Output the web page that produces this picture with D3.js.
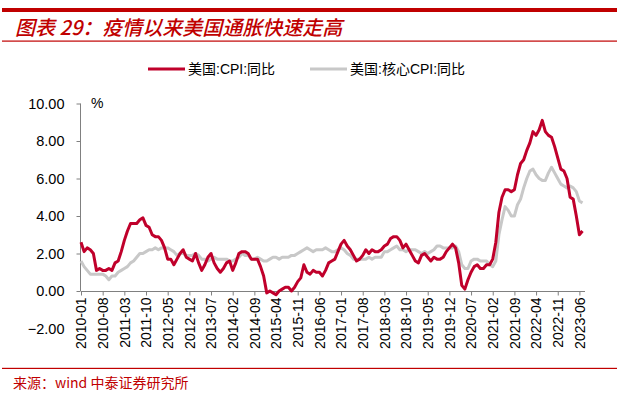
<!DOCTYPE html>
<html><head><meta charset="utf-8">
<script src="https://cdn.jsdelivr.net/npm/d3@7"></script>
<style>
html,body{margin:0;padding:0;background:#fff;}
svg{display:block;}
</style></head>
<body>
<svg id="c" width="630" height="396"></svg>
<script>
const startYear = 2010, startMonth = 1;
const cpi = [
 2.6,2.1,2.3,2.2,2.0,1.1,1.2,1.1,1.1,1.2,1.1,1.5,
 1.6,2.1,2.7,3.2,3.6,3.6,3.6,3.8,3.9,3.5,3.4,3.0,
 2.9,2.9,2.7,2.3,1.7,1.7,1.4,1.7,2.0,2.2,1.8,1.7,
 1.6,2.0,1.5,1.1,1.4,1.8,2.0,1.5,1.2,1.0,1.2,1.5,
 1.6,1.1,1.5,2.0,2.1,2.1,2.0,1.7,1.7,1.7,1.3,0.8,
 -0.1,0.0,-0.1,-0.2,0.0,0.1,0.2,0.2,0.0,0.2,0.5,0.7,
 1.4,1.0,0.9,1.1,1.0,1.0,0.8,1.1,1.5,1.6,1.7,2.1,
 2.5,2.7,2.4,2.2,1.9,1.6,1.7,1.9,2.2,2.0,2.2,2.1,
 2.1,2.2,2.4,2.5,2.8,2.9,2.9,2.7,2.3,2.5,2.2,1.9,
 1.6,1.5,1.9,2.0,1.8,1.6,1.8,1.7,1.7,1.8,2.1,2.3,
 2.5,2.3,1.5,0.3,0.1,0.6,1.0,1.3,1.4,1.2,1.2,1.4,
 1.4,1.7,2.6,4.2,5.0,5.4,5.4,5.3,5.4,6.2,6.8,7.0,
 7.5,7.9,8.5,8.3,8.6,9.1,8.5,8.3,8.2,7.7,7.1,6.5,
 6.4,6.0,5.0,4.9,4.0,3.0,3.2
];
const coreCpi = [
 1.6,1.3,1.1,0.9,0.9,0.9,0.9,0.9,0.8,0.6,0.8,0.8,
 1.0,1.1,1.2,1.3,1.5,1.6,1.8,2.0,2.0,2.1,2.2,2.2,
 2.3,2.2,2.3,2.3,2.3,2.2,2.1,1.9,2.0,2.0,1.9,1.9,
 1.9,2.0,1.9,1.7,1.7,1.6,1.7,1.8,1.7,1.7,1.7,1.7,
 1.6,1.6,1.7,1.8,2.0,1.9,1.9,1.7,1.7,1.8,1.7,1.6,
 1.6,1.7,1.8,1.8,1.7,1.8,1.8,1.8,1.9,1.9,2.0,2.1,
 2.2,2.3,2.2,2.1,2.2,2.2,2.2,2.3,2.2,2.1,2.1,2.2,
 2.3,2.2,2.0,1.9,1.7,1.7,1.7,1.7,1.7,1.8,1.7,1.8,
 1.8,1.8,2.1,2.1,2.2,2.3,2.4,2.2,2.2,2.1,2.2,2.2,
 2.2,2.1,2.0,2.1,2.0,2.1,2.2,2.4,2.4,2.3,2.3,2.3,
 2.3,2.4,2.1,1.4,1.2,1.2,1.6,1.7,1.7,1.6,1.6,1.6,
 1.4,1.3,1.6,3.0,3.8,4.5,4.3,4.0,4.0,4.6,4.9,5.5,
 6.0,6.4,6.5,6.2,6.0,5.9,5.9,6.3,6.6,6.3,6.0,5.7,
 5.6,5.5,5.6,5.5,5.3,4.8,4.7
];
const seriesNames = ["美国:CPI:同比","美国:核心CPI:同比"];
const yTicks = [-2,0,2,4,6,8,10];
const xTickStep = 7;
const titleText = "图表 29：疫情以来美国通胀快速走高";
const sourceText = "来源：wind 中泰证券研究所";

const n = cpi.length;
const labels = d3.range(n).map(i => {
  const m = startMonth - 1 + i;
  const y = startYear + Math.floor(m / 12);
  const mm = (m % 12) + 1;
  return y + "-" + (mm < 10 ? "0" + mm : mm);
});

const svg = d3.select("#c");
const red = "#C00000";
const lineRed = "#C0002B";
const lineGrey = "#C8C8C8";

// header
svg.append("rect").attr("x",2).attr("y",8).attr("width",615).attr("height",4).attr("fill",red);
svg.append("text").attr("x",15).attr("y",35)
  .attr("font-family","'Noto Sans CJK SC'").attr("font-size",20).attr("font-weight",500)
  .attr("font-style","italic").attr("fill",red).text(titleText);
svg.append("rect").attr("x",2).attr("y",40.5).attr("width",615).attr("height",1.2).attr("fill",red);
// footer
svg.append("rect").attr("x",2).attr("y",367.8).attr("width",615).attr("height",1.2).attr("fill",red);
svg.append("text").attr("x",13).attr("y",388)
  .attr("font-family","'Noto Sans CJK SC'").attr("font-size",14)
  .attr("fill",red).text(sourceText);

const x = d3.scaleLinear().domain([0, n - 1]).range([81, 582.5]);
const y = d3.scaleLinear().domain([-2, 10]).range([328.5, 103.5]);

// y axis
const yAxis = svg.append("g").attr("transform","translate(80.5,0)")
  .call(d3.axisLeft(y).tickValues(yTicks).tickSize(4).tickPadding(12).tickFormat(d3.format(".2f")));
yAxis.select(".domain").remove();
yAxis.selectAll(".tick").filter(d => d < 0).select("line").remove();
yAxis.selectAll("line").attr("stroke","#808080");
yAxis.selectAll("text").attr("font-family","'Liberation Sans', Arial").attr("font-size",14.5).attr("fill","#000");
svg.append("line").attr("x1",80.5).attr("x2",80.5).attr("y1",y(10)).attr("y2",y(0)).attr("stroke","#808080");
svg.append("text").attr("x",91).attr("y",y(10)+4).attr("font-family","'Liberation Sans', Arial")
  .attr("font-size",14).attr("fill","#000").text("%");

// x axis
const tickIdx = d3.range(0, n, xTickStep);
const xAxis = svg.append("g").attr("transform","translate(0," + (Math.round(y(0)) + 0.5) + ")")
  .call(d3.axisBottom(x).tickValues(tickIdx).tickSize(4).tickFormat(i => labels[i]));
xAxis.select(".domain").attr("d", "M81,0H585").attr("stroke","#808080");
xAxis.selectAll("line").attr("stroke","#808080");
xAxis.selectAll("text")
  .attr("font-family","'Liberation Sans', Arial").attr("font-size",14).attr("fill","#000")
  .attr("transform","rotate(-90)").attr("text-anchor","end").attr("x",-6).attr("y",0).attr("dy","0.35em");

// lines
const line = d3.line().x((d,i) => x(i)).y(d => y(d));
svg.append("path").datum(coreCpi).attr("d",line).attr("fill","none")
  .attr("stroke",lineGrey).attr("stroke-width",3).attr("stroke-linejoin","round");
svg.append("path").datum(cpi).attr("d",line).attr("fill","none")
  .attr("stroke",lineRed).attr("stroke-width",3).attr("stroke-linejoin","round");

// legend
const lg = [{name: seriesNames[0], c: lineRed, x: 148}, {name: seriesNames[1], c: lineGrey, x: 310}];
lg.forEach(l => {
  svg.append("line").attr("x1",l.x).attr("x2",l.x+37).attr("y1",69).attr("y2",69)
    .attr("stroke",l.c).attr("stroke-width",3);
  svg.append("text").attr("x",l.x+40).attr("y",74).attr("font-family","'Liberation Sans','Noto Sans CJK SC'")
    .attr("font-size",14).attr("fill","#000").text(l.name);
});
</script>
</body></html>
